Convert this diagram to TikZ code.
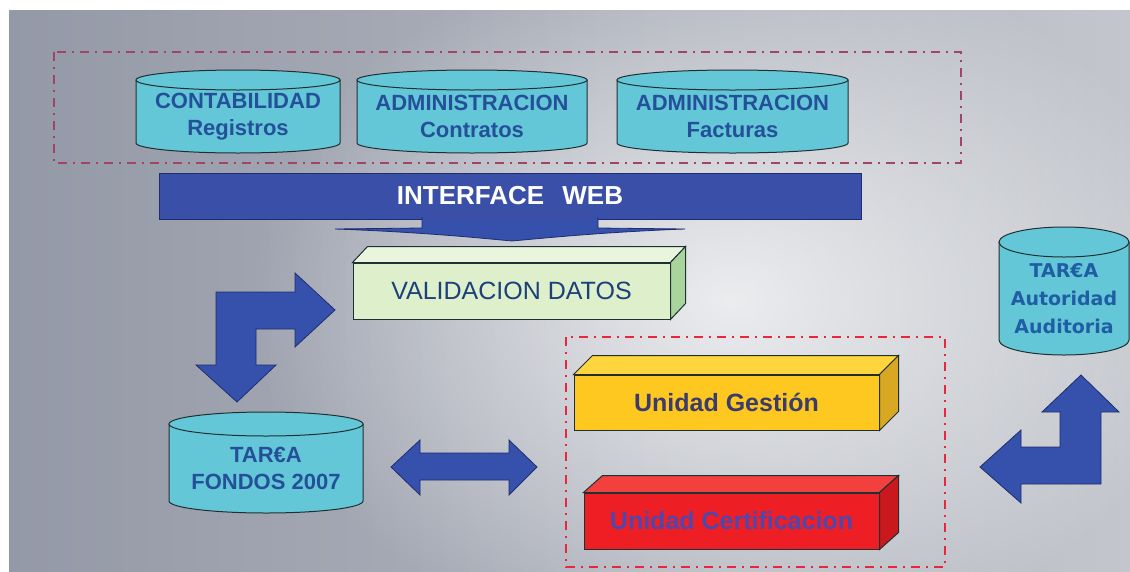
\documentclass[tikz,border=0pt]{standalone}
\usepackage{fontspec}
\setmainfont{Liberation Sans}
\newfontfamily\roundsans{DejaVu Sans}
\usepackage{tikz}
\usetikzlibrary{fadings}

\definecolor{bgleft}{HTML}{9499A7}
\definecolor{bgright}{HTML}{C3C6CC}
\definecolor{cyanfill}{HTML}{63C7D7}
\definecolor{cyltextc}{HTML}{24509A}
\definecolor{edgedark}{HTML}{203030}
\definecolor{barblue}{HTML}{3A4FA8}
\definecolor{bardark}{HTML}{1E2C70}
\definecolor{arrowblue}{HTML}{3651AC}
\definecolor{greenfront}{HTML}{DDEFCB}
\definecolor{greentop}{HTML}{E9F5DC}
\definecolor{greenside}{HTML}{A9D59C}
\definecolor{yellowfront}{HTML}{FFC820}
\definecolor{yellowtop}{HTML}{FFD53D}
\definecolor{yellowside}{HTML}{D8A823}
\definecolor{redfront}{HTML}{EE1E25}
\definecolor{redtop}{HTML}{F2403F}
\definecolor{redside}{HTML}{C9191E}
\definecolor{topframe}{HTML}{A24468}
\definecolor{redframe}{HTML}{E8263C}
\definecolor{gestiontext}{HTML}{3A3C6C}
\definecolor{certiftext}{HTML}{5046AC}
\definecolor{audittext}{HTML}{1F5EA4}

\tikzfading[name=softspot, inner color=transparent!0, outer color=transparent!100]

\tikzset{
  cyl/.style={fill=cyanfill, draw=edgedark, line width=1pt},
  cyltext/.style={text=cyltextc, font=\bfseries\fontsize{22}{27}\selectfont, align=center},
  blockarrow/.style={fill=arrowblue, draw=bardark, line width=0.8pt},
  frontface/.style={draw=edgedark, line width=1pt, inner sep=0pt},
  groupframe/.style={line width=2pt, dash pattern=on 9pt off 6pt on 2pt off 6pt}
}

% cylinder: name, left, top, right, bottom, ry, text
\newcommand{\dbcyl}[7]{%
  \filldraw[cyl] (#2,{#3+#6}) -- (#2,{#5-#6})
    arc[start angle=180, end angle=0, x radius={(#4-#2)/2}, y radius=#6]
    -- (#4,{#3+#6}) -- cycle;
  \filldraw[cyl] ({(#2+#4)/2},{#3+#6}) ellipse[x radius={(#4-#2)/2}, y radius=#6];
  \node[cyltext] (#1) at ({(#2+#4)/2},{(#3+#5)/2+#6/2}) {#7};
}

% top and side faces of a block node: name, dx, dy, top colour, side colour
\newcommand{\solidfaces}[5]{%
  \filldraw[draw=edgedark, line width=1pt, fill=#4] (#1.north west) -- ++(#2,-#3)
    -- ([shift={(#2,-#3)}]#1.north east) -- (#1.north east) -- cycle;
  \filldraw[draw=edgedark, line width=1pt, fill=#5] (#1.north east) -- ++(#2,-#3)
    -- ([shift={(#2,-#3)}]#1.south east) -- (#1.south east) -- cycle;
}

\begin{document}
\begin{tikzpicture}[x=1pt, y=-1pt]
  \useasboundingbox (0,0) rectangle (1130,571);
  \fill[white] (0,0) rectangle (1130,571);
  % background
  \shade[left color=bgleft, right color=bgright] (9,10) rectangle (1130,571);
  \fill[white, path fading=softspot, fill opacity=0.75] (730,300) ellipse[x radius=480, y radius=360];

  % data sources
  \draw[groupframe, topframe] (54,52) rectangle (961,163);
  \dbcyl{contab}{136}{70}{340}{153}{10}{CONTABILIDAD\\Registros}
  \dbcyl{admcon}{357}{70}{587}{153}{10}{ADMINISTRACION\\Contratos}
  \dbcyl{admfac}{617}{70}{848}{153}{10}{ADMINISTRACION\\Facturas}

  % interface bar
  \node[fill=barblue, draw=bardark, line width=1pt, minimum width=702pt, minimum height=46pt,
        text=white, font=\bfseries\fontsize{26}{30}\selectfont] (web) at (510,196)
        {INTERFACE\hspace{0.7em}WEB};
  \filldraw[blockarrow] (422,218) -- (422,228) -- (335,229)
    .. controls (420,232) and (480,238) .. (512,241)
    .. controls (545,238) and (605,232) .. (685,229)
    -- (598,228) -- (598,218) -- cycle;
  \fill[barblue] (423,216) rectangle (597,220);

  % validation
  \node[frontface, fill=greenfront, minimum width=317pt, minimum height=56pt,
        text=cyltextc!80!black, font=\fontsize{25}{30}\selectfont] (valid) at (511.5,291)
        {VALIDACION DATOS};
  \solidfaces{valid}{15}{16}{greentop}{greenside}

  % main store
  \dbcyl{fondos}{169}{412}{363}{513}{12}{TAR€A\\FONDOS 2007}

  % audit store
  \filldraw[cyl] (999,242) -- (999,340)
    arc[start angle=180, end angle=0, x radius=65, y radius=15] -- (1129,242) -- cycle;
  \filldraw[cyl] (1064,242) ellipse[x radius=65, y radius=15];
  \node[cyltext, text=audittext, font=\roundsans\bfseries\fontsize{19}{28}\selectfont]
        (audit) at (1064,299) {TAR€A\\Autoridad\\Auditoria};

  % units
  \draw[groupframe, redframe] (566,337) rectangle (945,567);
  \node[frontface, fill=yellowfront, minimum width=305pt, minimum height=55pt,
        text=gestiontext, font=\bfseries\fontsize{25}{30}\selectfont] (gestion) at (726.5,402.5)
        {Unidad Gestión};
  \solidfaces{gestion}{19}{19}{yellowtop}{yellowside}
  \node[frontface, fill=redfront, minimum width=295pt, minimum height=56pt,
        text=certiftext, font=\bfseries\fontsize{25}{30}\selectfont] (certif) at (731.5,521)
        {Unidad Certificacion};
  \solidfaces{certif}{19}{17}{redtop}{redside}

  % block arrows
  \filldraw[blockarrow] (216,292) -- (295,292) -- (295,273) -- (335,310) -- (295,347)
    -- (295,329) -- (256,329) -- (256,365) -- (276,365) -- (237,402) -- (196,365)
    -- (216,365) -- cycle;
  \filldraw[blockarrow] (391,467) -- (420,440) -- (420,453) -- (509,453) -- (509,440)
    -- (537,467) -- (509,495) -- (509,480) -- (420,480) -- (420,495) -- cycle;
  \filldraw[blockarrow] (1060,412) -- (1042,412) -- (1081,375) -- (1119,412) -- (1101,412)
    -- (1101,484) -- (1021,484) -- (1021,503) -- (980,467) -- (1021,430) -- (1021,447)
    -- (1060,447) -- cycle;
\end{tikzpicture}
\end{document}
